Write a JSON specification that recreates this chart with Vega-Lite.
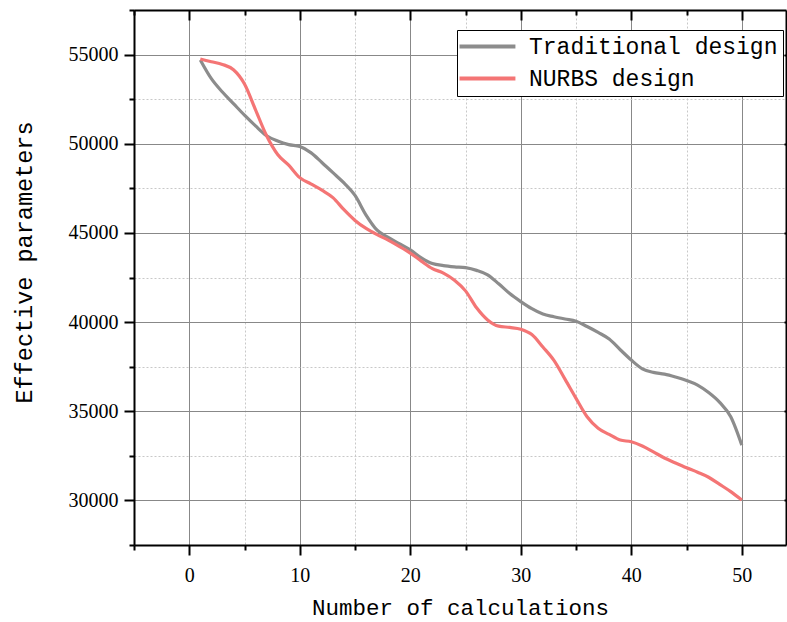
{
  "$schema": "https://vega.github.io/schema/vega-lite/v6.json",
  "width": 652,
  "height": 535,
  "autosize": {"type": "none"},
  "padding": {"left": 134, "top": 10, "right": 1, "bottom": 77},
  "background": "white",
  "config": {"view": {"stroke": null}},
  "data": {"values": [
    {"n":1,"v":54700,"s":"Traditional design"},{"n":2,"v":53650,"s":"Traditional design"},{"n":3,"v":52900,"s":"Traditional design"},{"n":4,"v":52250,"s":"Traditional design"},{"n":5,"v":51600,"s":"Traditional design"},
    {"n":6,"v":51000,"s":"Traditional design"},{"n":7,"v":50450,"s":"Traditional design"},{"n":8,"v":50150,"s":"Traditional design"},{"n":9,"v":49950,"s":"Traditional design"},{"n":10,"v":49850,"s":"Traditional design"},
    {"n":11,"v":49500,"s":"Traditional design"},{"n":12,"v":48950,"s":"Traditional design"},{"n":13,"v":48380,"s":"Traditional design"},{"n":14,"v":47800,"s":"Traditional design"},{"n":15,"v":47100,"s":"Traditional design"},
    {"n":16,"v":46000,"s":"Traditional design"},{"n":17,"v":45150,"s":"Traditional design"},{"n":18,"v":44750,"s":"Traditional design"},{"n":19,"v":44400,"s":"Traditional design"},{"n":20,"v":44050,"s":"Traditional design"},
    {"n":21,"v":43600,"s":"Traditional design"},{"n":22,"v":43280,"s":"Traditional design"},{"n":23,"v":43170,"s":"Traditional design"},{"n":24,"v":43100,"s":"Traditional design"},{"n":25,"v":43050,"s":"Traditional design"},
    {"n":26,"v":42900,"s":"Traditional design"},{"n":27,"v":42650,"s":"Traditional design"},{"n":28,"v":42150,"s":"Traditional design"},{"n":29,"v":41600,"s":"Traditional design"},{"n":30,"v":41150,"s":"Traditional design"},
    {"n":31,"v":40750,"s":"Traditional design"},{"n":32,"v":40450,"s":"Traditional design"},{"n":33,"v":40300,"s":"Traditional design"},{"n":34,"v":40170,"s":"Traditional design"},{"n":35,"v":40050,"s":"Traditional design"},
    {"n":36,"v":39750,"s":"Traditional design"},{"n":37,"v":39420,"s":"Traditional design"},{"n":38,"v":39050,"s":"Traditional design"},{"n":39,"v":38450,"s":"Traditional design"},{"n":40,"v":37870,"s":"Traditional design"},
    {"n":41,"v":37380,"s":"Traditional design"},{"n":42,"v":37180,"s":"Traditional design"},{"n":43,"v":37080,"s":"Traditional design"},{"n":44,"v":36920,"s":"Traditional design"},{"n":45,"v":36730,"s":"Traditional design"},
    {"n":46,"v":36470,"s":"Traditional design"},{"n":47,"v":36050,"s":"Traditional design"},{"n":48,"v":35500,"s":"Traditional design"},{"n":49,"v":34690,"s":"Traditional design"},{"n":50,"v":33100,"s":"Traditional design"},
    {"n":1,"v":54750,"s":"NURBS design"},{"n":2,"v":54600,"s":"NURBS design"},{"n":3,"v":54450,"s":"NURBS design"},{"n":4,"v":54150,"s":"NURBS design"},{"n":5,"v":53350,"s":"NURBS design"},
    {"n":6,"v":51900,"s":"NURBS design"},{"n":7,"v":50450,"s":"NURBS design"},{"n":8,"v":49400,"s":"NURBS design"},{"n":9,"v":48800,"s":"NURBS design"},{"n":10,"v":48100,"s":"NURBS design"},
    {"n":11,"v":47750,"s":"NURBS design"},{"n":12,"v":47400,"s":"NURBS design"},{"n":13,"v":46980,"s":"NURBS design"},{"n":14,"v":46300,"s":"NURBS design"},{"n":15,"v":45700,"s":"NURBS design"},
    {"n":16,"v":45250,"s":"NURBS design"},{"n":17,"v":44900,"s":"NURBS design"},{"n":18,"v":44600,"s":"NURBS design"},{"n":19,"v":44250,"s":"NURBS design"},{"n":20,"v":43870,"s":"NURBS design"},
    {"n":21,"v":43420,"s":"NURBS design"},{"n":22,"v":43000,"s":"NURBS design"},{"n":23,"v":42750,"s":"NURBS design"},{"n":24,"v":42350,"s":"NURBS design"},{"n":25,"v":41750,"s":"NURBS design"},
    {"n":26,"v":40800,"s":"NURBS design"},{"n":27,"v":40120,"s":"NURBS design"},{"n":28,"v":39770,"s":"NURBS design"},{"n":29,"v":39700,"s":"NURBS design"},{"n":30,"v":39600,"s":"NURBS design"},
    {"n":31,"v":39300,"s":"NURBS design"},{"n":32,"v":38600,"s":"NURBS design"},{"n":33,"v":37850,"s":"NURBS design"},{"n":34,"v":36800,"s":"NURBS design"},{"n":35,"v":35724,"s":"NURBS design"},
    {"n":36,"v":34690,"s":"NURBS design"},{"n":37,"v":34050,"s":"NURBS design"},{"n":38,"v":33700,"s":"NURBS design"},{"n":39,"v":33383,"s":"NURBS design"},{"n":40,"v":33290,"s":"NURBS design"},
    {"n":41,"v":33050,"s":"NURBS design"},{"n":42,"v":32720,"s":"NURBS design"},{"n":43,"v":32380,"s":"NURBS design"},{"n":44,"v":32100,"s":"NURBS design"},{"n":45,"v":31830,"s":"NURBS design"},
    {"n":46,"v":31580,"s":"NURBS design"},{"n":47,"v":31300,"s":"NURBS design"},{"n":48,"v":30900,"s":"NURBS design"},{"n":49,"v":30490,"s":"NURBS design"},{"n":50,"v":30020,"s":"NURBS design"}
  ]},
  "layer": [
    {
      "mark": {"type": "line", "interpolate": "monotone", "strokeWidth": 3.2},
      "encoding": {
        "x": {
          "field": "n", "type": "quantitative",
          "scale": {"domain": [-5, 54], "nice": false, "zero": false},
          "axis": {
            "orient": "bottom",
            "values": [-5,0,5,10,15,20,25,30,35,40,45,50],
            "format": "d",
            "labelExpr": "datum.value % 10 === 0 ? datum.label : ''",
            "title": "Number of calculations",
            "titleFont": "Liberation Mono", "titleFontSize": 22.5, "titleFontWeight": "normal", "titleColor": "black", "titlePadding": 11,
            "labelFont": "Liberation Serif", "labelFontSize": 20, "labelColor": "black", "labelPadding": 10,
            "domainColor": "black", "domainWidth": 2,
            "tickColor": "black", "tickWidth": 2,
            "tickSize": {"condition": {"test": "datum.value % 10 === 0", "value": 10}, "value": 5},
            "grid": true,
            "gridColor": {"condition": {"test": "datum.value % 10 === 0", "value": "#888888"}, "value": "#c8c8c8"},
            "gridDash": {"condition": {"test": "datum.value % 10 === 0", "value": []}, "value": [2, 2]},
            "gridWidth": 1, "gridOpacity": 1
          }
        },
        "y": {
          "field": "v", "type": "quantitative",
          "scale": {"domain": [27500, 57500], "nice": false, "zero": false},
          "axis": {
            "orient": "left",
            "values": [27500,30000,32500,35000,37500,40000,42500,45000,47500,50000,52500,55000,57500],
            "format": "d",
            "labelExpr": "datum.value % 5000 === 0 && datum.value >= 30000 && datum.value <= 55000 ? datum.label : ''",
            "title": "Effective parameters",
            "titleFont": "Liberation Mono", "titleFontSize": 23.5, "titleFontWeight": "normal", "titleColor": "black", "titlePadding": 32,
            "titleY": 252,
            "labelFont": "Liberation Serif", "labelFontSize": 20, "labelColor": "black", "labelPadding": 6,
            "domainColor": "black", "domainWidth": 2,
            "tickColor": "black", "tickWidth": 2,
            "tickSize": {"condition": {"test": "datum.value % 5000 === 0", "value": 10}, "value": 5},
            "grid": true,
            "gridColor": {"condition": {"test": "datum.value % 5000 === 0", "value": "#888888"}, "value": "#c8c8c8"},
            "gridDash": {"condition": {"test": "datum.value % 5000 === 0", "value": []}, "value": [2, 2]},
            "gridWidth": 1, "gridOpacity": 1
          }
        },
        "color": {
          "field": "s", "type": "nominal",
          "scale": {"domain": ["Traditional design", "NURBS design"], "range": ["#8c8c8c", "#f47575"]},
          "legend": {
            "orient": "none", "legendX": 323, "legendY": 20,
            "title": null,
            "symbolType": "M-2.5,0H7.5", "symbolSize": 125, "symbolStrokeWidth": 4,
            "labelFont": "Liberation Mono", "labelFontSize": 23, "labelColor": "black", "labelOffset": 44, "labelLimit": 500,
            "strokeColor": "black", "fillColor": "white", "padding": 5, "rowPadding": 8
          }
        }
      }
    },
    {
      "mark": {"type": "line", "opacity": 0},
      "encoding": {
        "x": {
          "field": "n", "type": "quantitative",
          "scale": {"domain": [-5, 54], "nice": false, "zero": false},
          "axis": {
            "orient": "top", "values": [-5,0,5,10,15,20,25,30,35,40,45,50],
            "labels": false, "title": null, "grid": false,
            "domainColor": "black", "domainWidth": 2, "tickColor": "black", "tickWidth": 2,
            "tickSize": {"condition": {"test": "datum.value % 10 === 0", "value": -10}, "value": -5}
          }
        },
        "y": {
          "field": "v", "type": "quantitative",
          "scale": {"domain": [27500, 57500], "nice": false, "zero": false},
          "axis": {
            "orient": "right", "values": [30000,35000,40000,45000,50000,55000],
            "labels": false, "title": null, "grid": false,
            "domainColor": "black", "domainWidth": 2, "tickColor": "black", "tickWidth": 2, "tickSize": -2
          }
        }
      }
    }
  ],
  "resolve": {"axis": {"x": "independent", "y": "independent"}}
}
